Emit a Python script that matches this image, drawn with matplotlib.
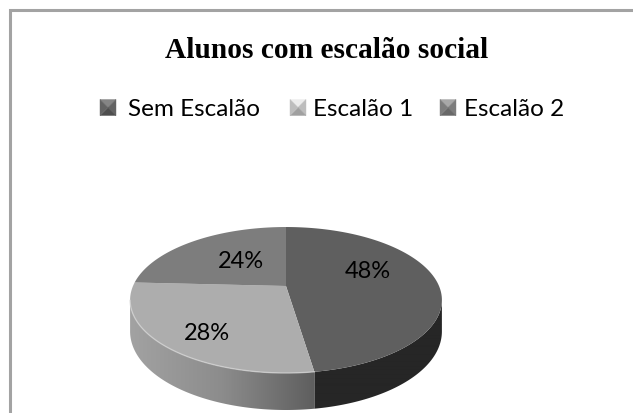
import numpy as np
import matplotlib
matplotlib.use("Agg")
import matplotlib.pyplot as plt
from matplotlib.colors import LinearSegmentedColormap
from matplotlib.patches import Polygon

title = "Alunos com escalão social"
categories = ["Sem Escalão", "Escalão 1", "Escalão 2"]
values = [47.6, 28.2, 24.2]
colors = ["#5f5f5f", "#adadad", "#7d7d7d"]

fig = plt.figure(figsize=(6.33, 4.14), dpi=100)
ax = fig.add_axes([0, 0, 1, 1])
ax.set_xlim(0, 633)
ax.set_ylim(414, 0)
ax.axis("off")

# outer frame, only top and left are visible in the crop
ax.plot([9.5, 9.5, 633], [414, 10.5, 10.5], color="#a3a3a3", lw=2.2, solid_joinstyle="miter")

ax.text(326.5, 58, title, family="Liberation Serif", weight="bold", fontsize=21.2,
        ha="center", va="baseline", color="black")


def marker(x, y, base, s=16):
    # little pyramid squares of the office legend
    cx, cy = x + s / 2, y + s / 2
    c = [(x, y), (x + s, y), (x + s, y + s), (x, y + s)]
    tones = [base[0], base[1], base[2], base[1]]
    for i in range(4):
        ax.add_patch(Polygon([c[i], c[(i + 1) % 4], (cx, cy)], fc=tones[i], ec=tones[i], lw=0.3))


marker_x = [100, 290, 440]
text_x = [128, 313, 464]
shades = [("#858585", "#636363", "#4e4e4e"),
          ("#ececec", "#bdbdbd", "#a0a0a0"),
          ("#a8a8a8", "#7d7d7d", "#686868")]
for mx, tx, name, sh in zip(marker_x, text_x, categories, shades):
    marker(mx, 100.5, sh)
    ax.text(tx, 116, name, family="Lato", fontsize=17.5, ha="left", va="baseline", color="black")

# pie in perspective: circle (u, v) mapped to the picture
CX, CY, A, B, K = 286, 287, 153, 70.3, 0.192


def project(theta):
    u, v = np.sin(theta), np.cos(theta)
    w = 1 + K * v
    return CX + A * u / w, CY - B * v / w, v


def depth(v):
    return 30 + 7 * (-v)


fractions = np.array(values) / sum(values)
edges = np.concatenate([[0], np.cumsum(fractions)]) * 2 * np.pi
side_cmaps = [LinearSegmentedColormap.from_list("a", ["#262626", "#262626"]),
              LinearSegmentedColormap.from_list("b", ["#a2a2a2", "#8c8c8c", "#5e5e5e"]),
              LinearSegmentedColormap.from_list("c", ["#a2a2a2", "#a2a2a2"])]

# sides first
for i in range(len(values)):
    th = np.linspace(edges[i], edges[i + 1], 200)
    x, y, v = project(th)
    front = v < -K
    if not front.any():
        continue
    x, y, v = x[front], y[front], v[front]
    poly = np.column_stack([np.r_[x, x[::-1]], np.r_[y, (y + depth(v))[::-1]]])
    patch = Polygon(poly, fc="none", ec="none")
    ax.add_patch(patch)
    grad = np.linspace(0, 1, 256).reshape(1, -1)
    x0, x1 = x.min(), x.max()
    im = ax.imshow(grad, cmap=side_cmaps[i], extent=[x0, x1, 414, 220], aspect="auto", zorder=1)
    im.set_clip_path(patch)
ax.set_xlim(0, 633)
ax.set_ylim(414, 0)

# top faces
for i in range(len(values)):
    th = np.linspace(edges[i], edges[i + 1], 200)
    x, y, v = project(th)
    poly = np.column_stack([np.r_[CX, x], np.r_[CY, y]])
    ax.add_patch(Polygon(poly, fc=colors[i], ec="none", zorder=2))

# light bevel on the front rim
th = np.linspace(edges[1], edges[2], 200)
x, y, v = project(th)
ax.plot(x[v < -K], y[v < -K], color="#d5d5d5", lw=1.0, alpha=0.7, zorder=3)

label_pos = [(368, 278), (207, 340), (241, 268)]
for (lx, ly), val in zip(label_pos, values):
    ax.text(lx, ly, f"{val:.0f}%", family="Lato", fontsize=17, ha="center", va="baseline", color="black", zorder=4)

fig.savefig("out.png", dpi=100)
